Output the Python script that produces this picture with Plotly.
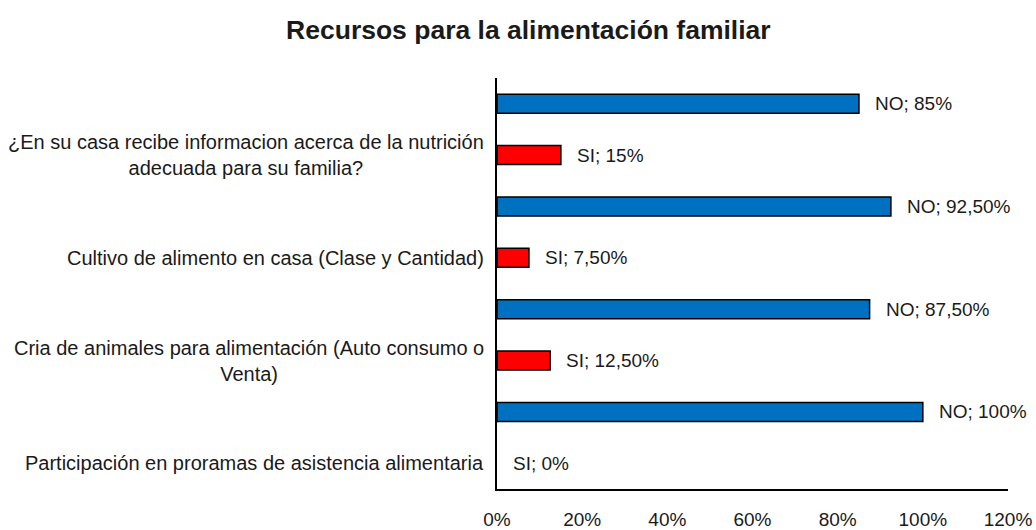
import plotly.graph_objects as go

categories = [
    "Participación en proramas de asistencia alimentaria",
    "Cria de animales para alimentación (Auto consumo o<br>Venta)",
    "Cultivo de alimento en casa (Clase y Cantidad)",
    "¿En su casa recibe informacion acerca de la nutrición<br>adecuada para su familia?",
]
si_values = [0, 12.5, 7.5, 15]
no_values = [100, 87.5, 92.5, 85]
si_labels = ["SI; 0%", "SI; 12,50%", "SI; 7,50%", "SI; 15%"]
no_labels = ["NO; 100%", "NO; 87,50%", "NO; 92,50%", "NO; 85%"]
x_ticks = [0, 20, 40, 60, 80, 100, 120]
x_ticklabels = ["0%", "20%", "40%", "60%", "80%", "100%", "120%"]

FONT = "Liberation Sans Narrow, Arial Narrow, Liberation Sans, Arial, sans-serif"
TXT = "#1a1a1a"

pos = list(range(len(categories)))
si_pos = pos
no_pos = [p + 0.5 for p in pos]

fig = go.Figure()
fig.add_trace(go.Bar(
    name="SI", x=si_values, y=si_pos, orientation="h", width=0.185,
    marker=dict(color="#FF0000",
                line=dict(color="#000000", width=[0 if v == 0 else 1.5 for v in si_values])),
))
fig.add_trace(go.Bar(
    name="NO", x=no_values, y=no_pos, orientation="h", width=0.185,
    marker=dict(color="#0070C0", line=dict(color="#000000", width=1.5)),
))

annotations = []
for v, p, t in zip(si_values, si_pos, si_labels):
    annotations.append(dict(x=v, y=p, xref="x", yref="y", text=t, showarrow=False,
                            xanchor="left", xshift=14, font=dict(size=19, color=TXT, family=FONT)))
for v, p, t in zip(no_values, no_pos, no_labels):
    annotations.append(dict(x=v, y=p, xref="x", yref="y", text=t, showarrow=False,
                            xanchor="left", xshift=14, font=dict(size=19, color=TXT, family=FONT)))
for c, p in zip(categories, pos):
    annotations.append(dict(x=0, y=p, xref="paper", yref="y", text=c, showarrow=False,
                            xanchor="right", align="center", xshift=-11,
                            font=dict(size=20, color=TXT, family=FONT)))

fig.update_layout(
    width=1036, height=530,
    margin=dict(l=497, r=28, t=78, b=41),
    paper_bgcolor="white", plot_bgcolor="white",
    showlegend=False,
    barmode="overlay",
    title=dict(text="<b>Recursos para la alimentación familiar</b>", x=0.51, xanchor="center",
               y=0.943, yanchor="middle", font=dict(size=26.5, color=TXT, family=FONT)),
    font=dict(family=FONT, size=19, color=TXT),
    annotations=annotations,
    xaxis=dict(range=[0, 120], tickvals=x_ticks, ticktext=x_ticklabels, showgrid=False,
               zeroline=False, showline=True, linecolor="#000000", linewidth=2,
               ticks="", ticklabelstandoff=12, automargin=False, fixedrange=True,
               tickfont=dict(size=19, color=TXT, family=FONT)),
    yaxis=dict(range=[-0.25, 3.75], showticklabels=False, showgrid=False, zeroline=False,
               showline=True, linecolor="#000000", linewidth=2, ticks="", automargin=False,
               fixedrange=True),
)

fig.write_html("out.html", config={"displayModeBar": False},
               post_script="document.body.style.margin='0';document.body.style.overflow='hidden';")
